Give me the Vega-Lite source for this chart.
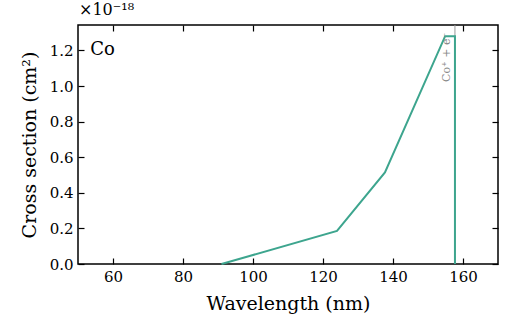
{
  "$schema": "https://vega.github.io/schema/vega-lite/v6.json",
  "width": 420,
  "height": 239,
  "autosize": {"type": "none"},
  "padding": {"left": 78, "top": 25, "right": 27, "bottom": 60},
  "background": "white",
  "title": {"text": "×10⁻¹⁸", "anchor": "start", "frame": "group", "font": "DejaVu Serif", "fontSize": 16, "fontWeight": "normal", "color": "black", "offset": 6, "dx": 1},
  "config": {
    "view": {"stroke": "black", "strokeWidth": 1.5},
    "axis": {"font": "DejaVu Serif", "labelFont": "DejaVu Serif", "titleFont": "DejaVu Serif", "labelFontSize": 15, "titleFontSize": 19, "titleFontWeight": "normal", "labelColor": "black", "titleColor": "black", "tickColor": "black", "domain": false, "grid": false, "tickSize": -6, "tickWidth": 1.2, "labelPadding": 11}
  },
  "datasets": {
    "curve": [
      {"wl": 91, "cs": 0, "o": 1},
      {"wl": 124, "cs": 0.186, "o": 2},
      {"wl": 137.7, "cs": 0.515, "o": 3},
      {"wl": 154.9, "cs": 1.28, "o": 4},
      {"wl": 157.7, "cs": 1.28, "o": 5},
      {"wl": 157.7, "cs": 0, "o": 6}
    ],
    "threshold": [{"wl": 157.7, "label": "Co⁺ + e⁻", "lx": 156.8, "ly": 1.3}],
    "element": [{"wl": 53.5, "cs": 1.2, "label": "Co"}]
  },
  "resolve": {"axis": {"x": "independent", "y": "independent"}},
  "layer": [
    {
      "data": {"name": "threshold"},
      "mark": {"type": "rule", "color": "#999999", "strokeWidth": 1},
      "encoding": {
        "x": {"field": "wl", "type": "quantitative", "scale": {"domain": [50, 170], "nice": false}, "axis": {"orient": "top", "labels": false, "title": null, "values": [60, 80, 100, 120, 140, 160]}}
      }
    },
    {
      "data": {"name": "curve"},
      "mark": {"type": "line", "color": "#3da58e", "strokeWidth": 2},
      "encoding": {
        "x": {"field": "wl", "type": "quantitative", "scale": {"domain": [50, 170], "nice": false}, "axis": {"orient": "bottom", "title": "Wavelength (nm)", "values": [60, 80, 100, 120, 140, 160], "titlePadding": 10}},
        "y": {"field": "cs", "type": "quantitative", "scale": {"domain": [0, 1.343], "nice": false, "zero": false}, "axis": {"orient": "left", "title": "Cross section (cm²)", "values": [0, 0.2, 0.4, 0.6, 0.8, 1.0, 1.2], "format": ".1f", "titlePadding": 10}},
        "order": {"field": "o", "type": "quantitative"}
      }
    },
    {
      "data": {"name": "curve"},
      "mark": {"type": "point", "opacity": 0},
      "encoding": {
        "x": {"field": "wl", "type": "quantitative", "scale": {"domain": [50, 170], "nice": false}, "axis": null},
        "y": {"field": "cs", "type": "quantitative", "scale": {"domain": [0, 1.343], "nice": false, "zero": false}, "axis": {"orient": "right", "labels": false, "title": null, "values": [0, 0.2, 0.4, 0.6, 0.8, 1.0, 1.2]}}
      }
    },
    {
      "data": {"name": "threshold"},
      "mark": {"type": "text", "angle": 270, "align": "right", "baseline": "bottom", "color": "#888888", "font": "DejaVu Serif", "fontSize": 11},
      "encoding": {
        "x": {"field": "lx", "type": "quantitative", "axis": null},
        "y": {"field": "ly", "type": "quantitative", "axis": null},
        "text": {"field": "label"}
      }
    },
    {
      "data": {"name": "element"},
      "mark": {"type": "text", "align": "left", "baseline": "middle", "color": "black", "font": "DejaVu Serif", "fontSize": 18},
      "encoding": {
        "x": {"field": "wl", "type": "quantitative", "axis": null},
        "y": {"field": "cs", "type": "quantitative", "axis": null},
        "text": {"field": "label"}
      }
    }
  ]
}
